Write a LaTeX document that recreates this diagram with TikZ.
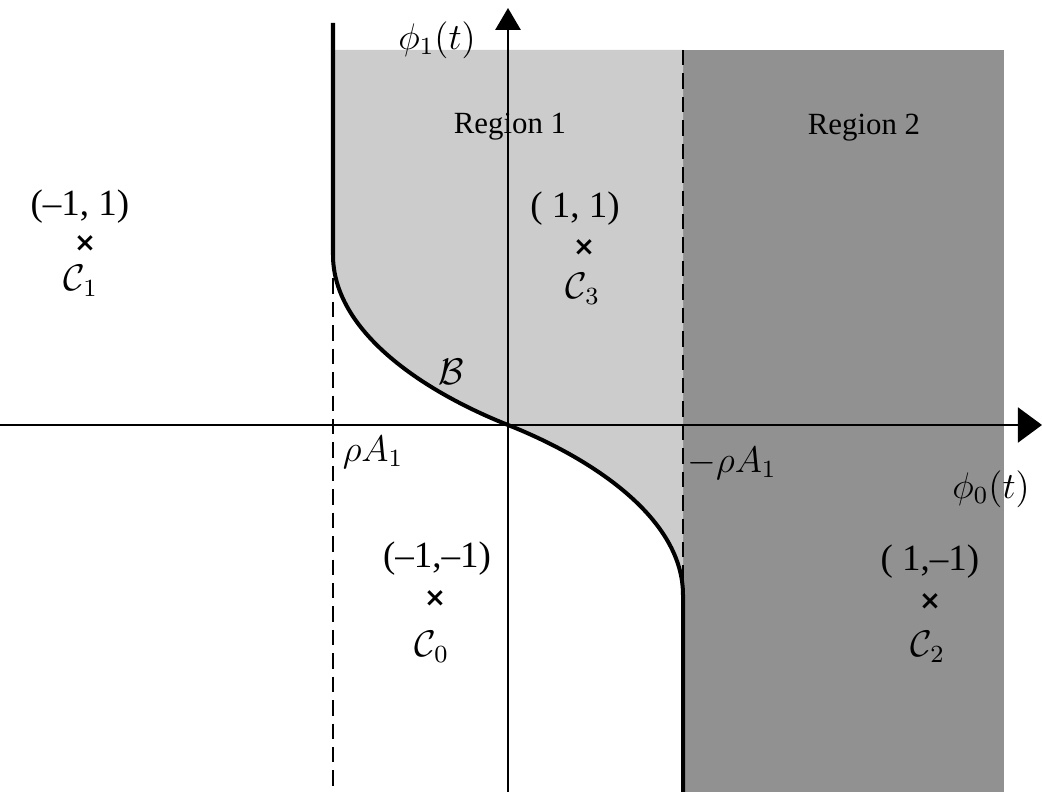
\documentclass[tikz,border=0pt]{standalone}
\usepackage{amsmath,amssymb}
\usepackage{fontspec}
\setmainfont{Liberation Serif}
\newfontfamily\crossfont{DejaVu Sans}
\usepackage{tikz}
\usetikzlibrary{arrows.meta}

\begin{document}
\begin{tikzpicture}[x=1.14cm,y=1.14cm,
  cross/.style={inner sep=0pt,font=\crossfont\bfseries\fontsize{8.5}{10}\selectfont},
  pair/.style={inner sep=0pt,font=\fontsize{12}{14}\selectfont},
  mlbl/.style={inner sep=0pt,font=\fontsize{11.5}{14}\selectfont},
  bnd/.style={line width=0.9pt,dash pattern=on 5pt off 2.6pt}]
  \useasboundingbox (-5.08,-3.67) rectangle (5.34,4.25);
  % shaded regions
  \fill[black!43] (1.75,-3.67) rectangle (4.96,3.75);
  \fill[black!20] (-1.75,3.75) -- (-1.75,1.70) .. controls (-1.75,0.95) and (-0.88,0.35) .. (0,0)
    .. controls (0.88,-0.35) and (1.75,-0.95) .. (1.75,-1.70) -- (1.75,3.75) -- cycle;
  % boundaries
  \coordinate (lt) at (-1.75,4.02);
  \coordinate (lm) at (-1.75,1.70);
  \coordinate (lb) at (-1.75,-3.67);
  \coordinate (rt) at (1.75,3.75);
  \coordinate (rm) at (1.75,-1.70);
  \coordinate (rb) at (1.75,-3.67);
  \coordinate (o) at (0,0);
  \draw[bnd] (lm) -- (lb);
  \draw[bnd] (rt) -- (rm);
  \draw[line width=1.3pt] (lt) -- (lm) .. controls (-1.75,0.95) and (-0.88,0.35) .. (o)
    .. controls (0.88,-0.35) and (1.75,-0.95) .. (rm) -- (rb);
  % axes
  \coordinate (xl) at (-5.08,0);
  \coordinate (xr) at (5.34,0);
  \coordinate (yb) at (0,-3.67);
  \coordinate (yt) at (0,4.17);
  \draw[line width=0.85pt,-{Triangle[length=7.8pt,width=11.3pt]}] (xl) -- (xr);
  \draw[line width=0.85pt,-{Triangle[length=7.1pt,width=8.1pt]}] (yb) -- (yt);
  \node[mlbl] (phione) at (-0.71,3.85) {$\phi_1(t)$};
  \node[mlbl] (phizero) at (4.83,-0.64) {$\phi_0(t)$};
  \node[mlbl] (rhol) at (-1.35,-0.27) {$\rho A_1$};
  \node[mlbl] (rhor) at (2.24,-0.38) {$-\rho A_1$};
  \node[mlbl] (bcurve) at (-0.57,0.53) {$\mathcal{B}$};
  \node[inner sep=0pt] (regone) at (0.02,2.98) {Region 1};
  \node[inner sep=0pt] (regtwo) at (3.56,2.97) {Region 2};
  % constellation points
  \node[pair] (pone) at (-4.28,2.18) {(--1, 1)};
  \node[cross] (xone) at (-4.23,1.81) {×};
  \node[mlbl] (cone) at (-4.27,1.44) {$\mathcal{C}_1$};
  \node[pair] (pthree) at (0.67,2.16) {( 1, 1)};
  \node[cross] (xthree) at (0.76,1.77) {×};
  \node[mlbl] (cthree) at (0.75,1.36) {$\mathcal{C}_3$};
  \node[pair] (pzero) at (-0.71,-1.34) {(--1,--1)};
  \node[cross] (xzero) at (-0.73,-1.74) {×};
  \node[mlbl] (czero) at (-0.76,-2.22) {$\mathcal{C}_0$};
  \node[pair] (ptwo) at (4.22,-1.37) {( 1,--1)};
  \node[cross] (xtwo) at (4.22,-1.77) {×};
  \node[mlbl] (ctwo) at (4.20,-2.22) {$\mathcal{C}_2$};
\end{tikzpicture}
\end{document}
